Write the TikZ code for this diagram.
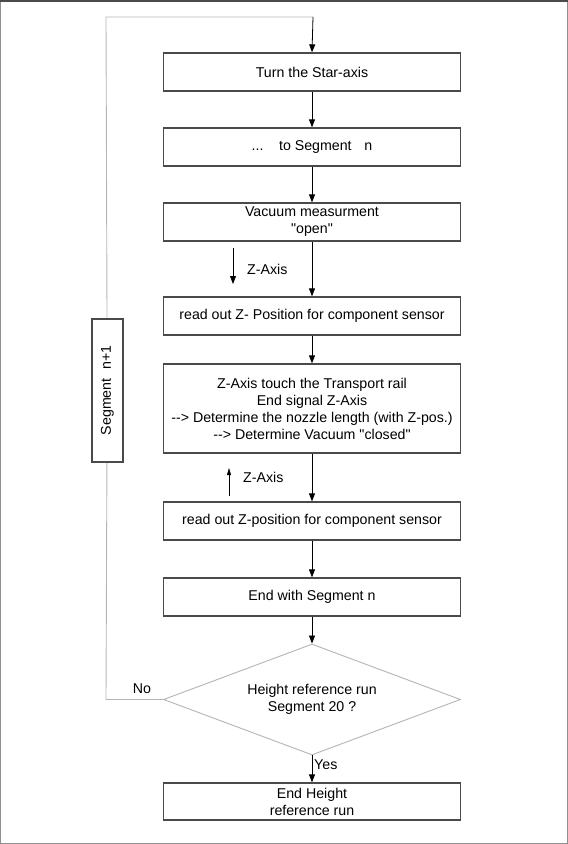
\documentclass[tikz,border=0pt]{standalone}
\usepackage{fontspec}
\setmainfont{Liberation Sans}[Ligatures=TeXOff]
\usetikzlibrary{arrows.meta,shapes.geometric}
\definecolor{boxline}{HTML}{4A4A4A}
\definecolor{lightline}{HTML}{B4B4B4}
\begin{document}
\begin{tikzpicture}[x=1pt,y=-1pt,
  every node/.style={font=\fontsize{14.2}{17}\selectfont},
  stepbox/.style={draw=boxline,line width=1.3pt,fill=white,minimum width=297pt,inner sep=0pt,align=center},
  flow/.style={draw=black,line width=0.8pt,-{Triangle[length=8pt,width=6pt]}},
  loopline/.style={draw=lightline,line width=0.9pt},
  lbl/.style={inner sep=0pt}]
\useasboundingbox (0,0) rectangle (568,844);
\draw[draw=lightline!80!black,line width=1pt] (0.5,0.5) rectangle (567.5,843.5);
\draw[draw=boxline,line width=1.6pt] (0,0.8) -- (568,0.8);

\node[stepbox,minimum height=38pt] (b1) at (312,72) {Turn the Star-axis};
\node[stepbox,minimum height=38pt] (b2) at (312,147) {...\hspace{1.1em}to Segment\hspace{0.9em}n};
\node[stepbox,minimum height=38pt] (b3) at (312,222) {Vacuum measurment\\"open"};
\node[stepbox,minimum height=38pt] (b4) at (312,316) {read out Z- Position for component sensor};
\node[stepbox,minimum height=89pt] (b5) at (312,408.5) {Z-Axis touch the Transport rail\\End signal Z-Axis\\--> Determine the nozzle length (with Z-pos.)\\--> Determine Vacuum "closed"};
\node[stepbox,minimum height=38pt] (b6) at (312,521) {read out Z-position for component sensor};
\node[stepbox,minimum height=38pt] (b7) at (312,597) {End with Segment n};
\node[diamond,draw=lightline,line width=0.9pt,fill=white,minimum width=297pt,minimum height=111pt,inner sep=0pt,align=center,aspect=2.67] (d) at (312,699.5) {Height reference run\\Segment 20 ?};
\node[stepbox,minimum height=37pt] (b8) at (312,801.5) {End Height\\reference run};

\node[draw=boxline,line width=1.3pt,fill=white,minimum width=143pt,minimum height=31pt,inner sep=0pt,rotate=90] (seg) at (107.5,390.5) {};

\coordinate (l1) at (106,699.5);
\coordinate (l2) at (106,17);
\coordinate (l3) at (313,17);
\draw[loopline] (d.west) -- (l1) -- (seg.east);
\draw[loopline] (seg.west) -- (l2) -- (l3);
\draw[flow] (l3) -- (b1.north);
\node[draw=boxline,line width=1.3pt,fill=white,minimum width=143pt,minimum height=31pt,inner sep=0pt,rotate=90] (segt) at (107.5,390.5) {Segment\hspace{0.6em}n+1};

\draw[flow] (b1) -- (b2);
\draw[flow] (b2) -- (b3);
\draw[flow] (b3) -- (b4);
\draw[flow] (b4) -- (b5);
\draw[flow] (b5) -- (b6);
\draw[flow] (b6) -- (b7);
\draw[flow] (b7) -- (d);
\draw[flow] (d) -- (b8);

\coordinate (za1) at (233,248);
\coordinate (za2) at (233,284);
\draw[flow] (za1) -- (za2);
\node[lbl,anchor=west] (zal) at (247,269) {Z-Axis};
\coordinate (zb1) at (229,496);
\coordinate (zb2) at (229,468);
\draw[flow,-{Triangle[length=7pt,width=4pt]}] (zb1) -- (zb2);
\node[lbl,anchor=west] (zbl) at (243,477) {Z-Axis};

\node[lbl] (no) at (142,689) {No};
\node[lbl,anchor=west] (yes) at (314,765) {Yes};
\end{tikzpicture}
\end{document}
